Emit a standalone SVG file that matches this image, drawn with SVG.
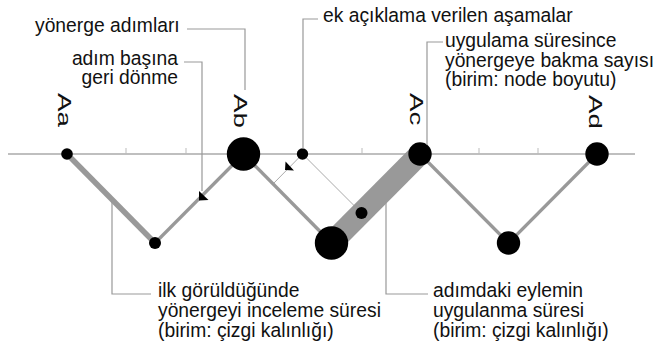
<svg xmlns="http://www.w3.org/2000/svg" width="660" height="349" viewBox="0 0 660 349">
<style>
text{font-family:"Liberation Sans",Arial,Helvetica,sans-serif;font-size:19.3px;fill:#111}
.lbl{font-size:18.5px}
.axis{stroke:#aaa;stroke-width:1.5;fill:none}
.tick{stroke:#bbb;stroke-width:1;fill:none}
.edge{stroke:#999;fill:none;stroke-linecap:butt}
.thin{stroke:#aaa;stroke-width:1;fill:none}
.lead{stroke:#999;stroke-width:1.2;fill:none}
.node{fill:#000}
.arr{fill:#000}
</style>
<rect width="660" height="349" fill="#fff"/>
<g id="axis">
<line class="axis" x1="8" y1="154" x2="635" y2="154"/>
<path class="tick" d="M126 154V148M186 154V148M362 154V148M479 154V148M538 154V148"/>
</g>
<g id="connectors">
<line class="thin" x1="302.5" y1="154" x2="273" y2="184"/>
<line class="thin" x1="302.5" y1="154" x2="361.5" y2="213"/>
<line class="edge" x1="67" y1="154" x2="155" y2="243" stroke-width="5.5"/>
<line class="edge" x1="155" y1="243" x2="243.5" y2="154" stroke-width="3.2"/>
<line class="edge" x1="243.5" y1="154" x2="331.5" y2="243" stroke-width="3.5"/>
<line class="edge" x1="331.5" y1="243" x2="420" y2="154" stroke-width="22"/>
<line class="edge" x1="420" y1="154" x2="508.5" y2="243" stroke-width="3.2"/>
<line class="edge" x1="508.5" y1="243" x2="597" y2="154" stroke-width="3.2"/>
<polygon class="arr" points="199,200.5 199,191 208.5,200"/>
<polygon class="arr" points="285,170 285.5,161.5 294,170.5"/>
</g>
<g id="Aa"><circle class="node" cx="67" cy="154" r="5.8"/><text class="lbl" transform="translate(58,93) rotate(90) scale(1.5,1)">Aa</text></g>
<g id="Ab"><circle class="node" cx="243.5" cy="154" r="16.7"/><text class="lbl" transform="translate(234,94) rotate(90) scale(1.5,1)">Ab</text></g>
<g id="Ac"><circle class="node" cx="420" cy="154" r="11.7"/><text class="lbl" transform="translate(410,93) rotate(90) scale(1.5,1)">Ac</text></g>
<g id="Ad"><circle class="node" cx="597" cy="154" r="11.7"/><text class="lbl" transform="translate(589,95) rotate(90) scale(1.5,1)">Ad</text></g>
<g id="n-extra"><circle class="node" cx="302.5" cy="154" r="5.7"/></g>
<g id="n-low1"><circle class="node" cx="155" cy="243" r="6"/></g>
<g id="n-low2"><circle class="node" cx="331.5" cy="243" r="16.7"/></g>
<g id="n-low3"><circle class="node" cx="508.5" cy="243" r="11.7"/></g>
<g id="n-band"><circle class="node" cx="361.5" cy="213" r="6"/></g>
<g id="label-steps">
<path class="lead" d="M187 29H245V90"/>
<text x="35" y="32">yönerge adımları</text>
</g>
<g id="label-back">
<path class="lead" d="M184 62H202V191"/>
<text x="178" y="65" text-anchor="end">adım başına</text>
<text x="178" y="84" text-anchor="end">geri dönme</text>
</g>
<g id="label-extra">
<path class="lead" d="M318 19H303V149"/>
<text x="323" y="22">ek açıklama verilen aşamalar</text>
</g>
<g id="label-count">
<path class="lead" d="M443 42H427V145"/>
<text x="445" y="47">uygulama süresince</text>
<text x="445" y="66.5">yönergeye bakma sayısı</text>
<text x="445" y="86">(birim: node boyutu)</text>
</g>
<g id="label-first">
<path class="lead" d="M112 200V294H151"/>
<text x="158" y="297">ilk görüldüğünde</text>
<text x="158" y="317">yönergeyi inceleme süresi</text>
<text x="158" y="337">(birim: çizgi kalınlığı)</text>
</g>
<g id="label-action">
<path class="lead" d="M386 201V294H428"/>
<text x="433" y="297">adımdaki eylemin</text>
<text x="433" y="317">uygulanma süresi</text>
<text x="433" y="337">(birim: çizgi kalınlığı)</text>
</g>
</svg>
